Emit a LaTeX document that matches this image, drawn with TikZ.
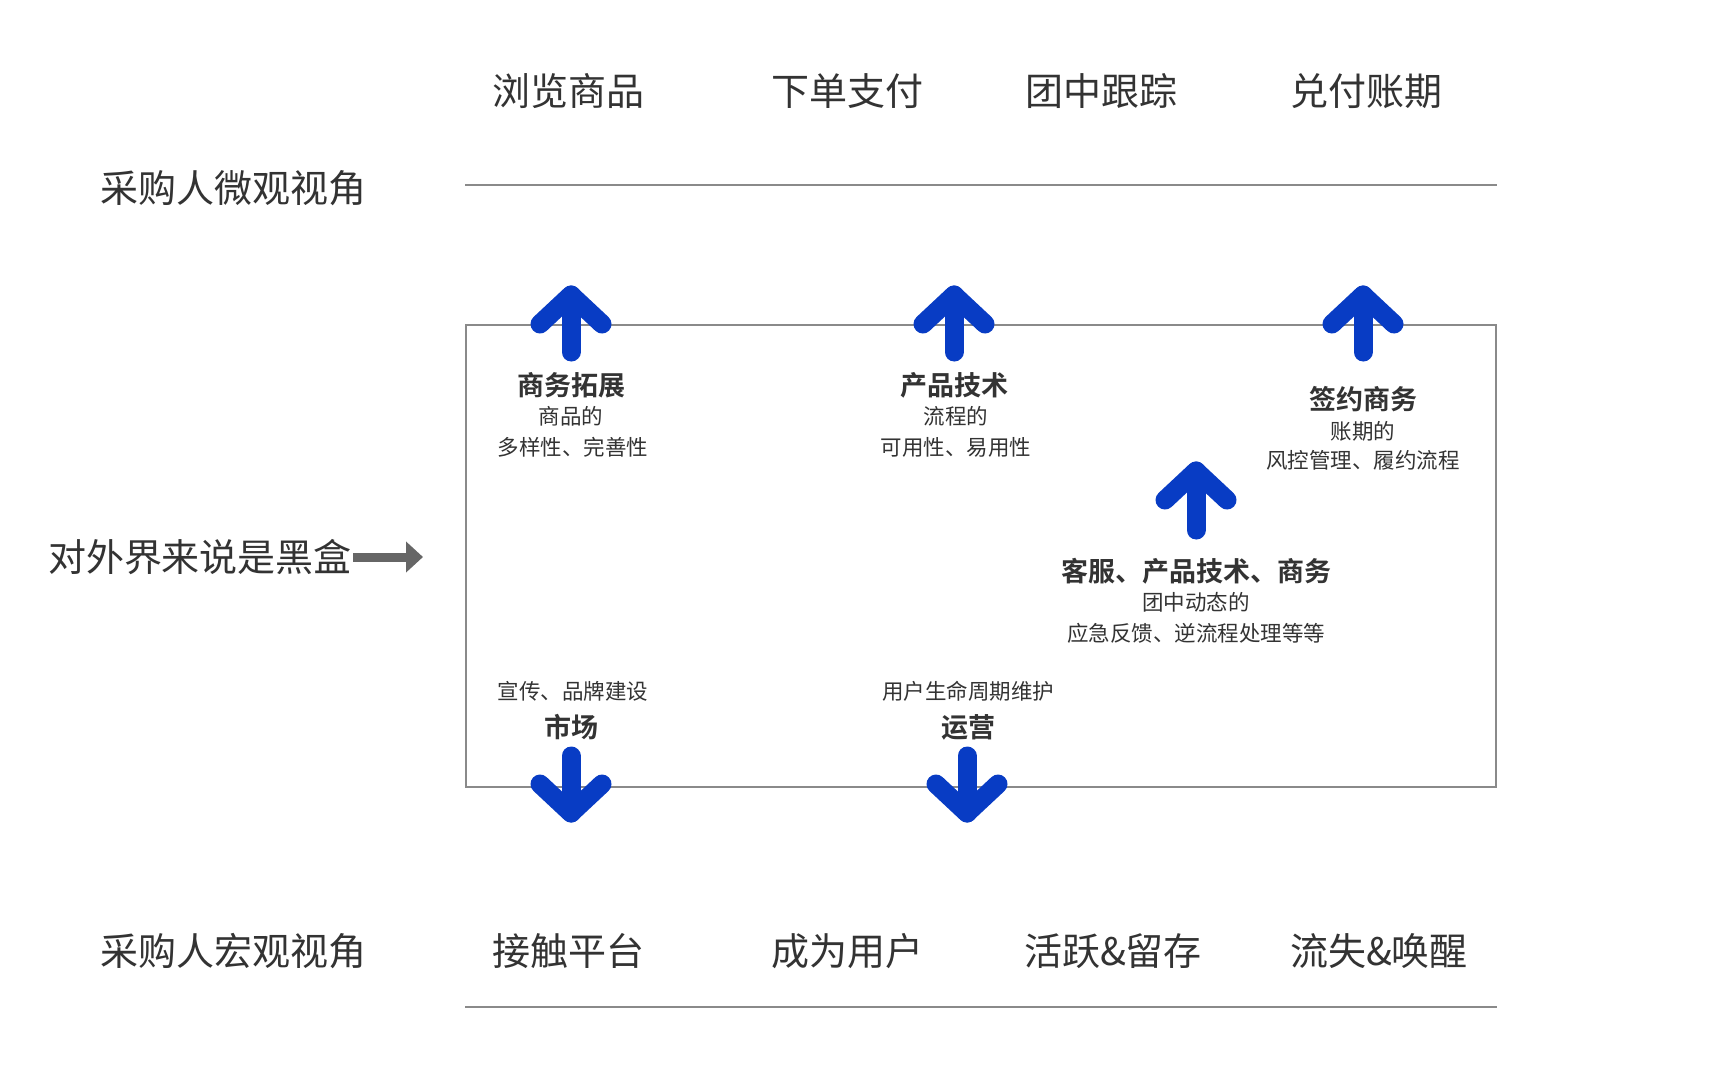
\documentclass[tikz,border=0pt]{standalone}
\usepackage{fontspec}
\setmainfont{Noto Sans CJK SC}[BoldFont={Noto Sans CJK SC Bold}]
\usetikzlibrary{arrows.meta}
\definecolor{txt}{HTML}{333333}
\definecolor{rulegray}{HTML}{8A8A8A}
\definecolor{arrblue}{HTML}{083CC4}
\definecolor{darkarr}{HTML}{666666}
\begin{document}
\begin{tikzpicture}[x=1pt,y=-1pt,
  big/.style={font=\fontsize{38}{38}\selectfont, text=txt, inner sep=0pt},
  lbl/.style={font=\fontsize{27}{27}\selectfont\bfseries, text=txt, inner sep=0pt},
  small/.style={font=\fontsize{21.5}{21.5}\selectfont, text=txt, inner sep=0pt},
  rule/.style={draw=rulegray, line width=2.5pt},
  blackbox/.style={draw=rulegray, line width=2.5pt},
  bluearrow/.style={draw=arrblue, line width=19pt, line cap=round, line join=round}]
\useasboundingbox (0,0) rectangle (1714,1080);
\fill[white] (0,0) rectangle (1714,1080);

% top row
\node[big] (t1) at (568,91) {浏览商品};
\node[big] (t2) at (847,91) {下单支付};
\node[big] (t3) at (1101,91) {团中跟踪};
\node[big] (t4) at (1366,91) {兑付账期};
\node[big] (micro) at (233,188) {采购人微观视角};
\coordinate (tl1) at (465,185);
\coordinate (tl2) at (1497,185);
\draw[rule] (tl1) -- (tl2);

% box
\coordinate (boxa) at (466,325);
\coordinate (boxb) at (1496,787);
\draw[blackbox] (boxa) rectangle (boxb);

% up arrows (top)
\foreach \cx in {571,954,1363}{
  \draw[bluearrow] (\cx,352) -- (\cx,295);
  \draw[bluearrow] (\cx-31,324) -- (\cx,295) -- (\cx+31,324);
}
% middle up arrow
\draw[bluearrow] (1196,530) -- (1196,471);
\draw[bluearrow] (1196-31,500) -- (1196,471) -- (1196+31,500);
% down arrows
\foreach \cx in {571,967}{
  \draw[bluearrow] (\cx,756) -- (\cx,813);
  \draw[bluearrow] (\cx-31,784) -- (\cx,813) -- (\cx+31,784);
}

% labels in box
\node[lbl] (bd) at (571,385) {商务拓展};
\node[small] (bd1) at (571,416) {商品的};
\node[small] (bd2) at (573,447) {多样性、完善性};

\node[lbl] (pt) at (954,385) {产品技术};
\node[small] (pt1) at (956,416) {流程的};
\node[small] (pt2) at (956,447) {可用性、易用性};

\node[lbl] (sb) at (1363,399) {签约商务};
\node[small] (sb1) at (1363,431) {账期的};
\node[small] (sb2) at (1363,460) {风控管理、履约流程};

\node[lbl] (cs) at (1196,571) {客服、产品技术、商务};
\node[small] (cs1) at (1196,602) {团中动态的};
\node[small] (cs2) at (1196,633) {应急反馈、逆流程处理等等};

\node[small] (mk1) at (573,691) {宣传、品牌建设};
\node[lbl] (mk) at (571,727) {市场};
\node[small] (op1) at (968,691) {用户生命周期维护};
\node[lbl] (op) at (968,727) {运营};

% left label with arrow
\node[big] (bbox) at (200,557) {对外界来说是黑盒};
\coordinate (bbend) at (423,557);
\draw[darkarr, line width=9pt, -{Triangle[length=17pt,width=30pt]}] ([xshift=1pt]bbox.east) -- (bbend);

% bottom row
\node[big] (macro) at (233,951) {采购人宏观视角};
\node[big] (b1) at (568,951) {接触平台};
\node[big] (b2) at (847,951) {成为用户};
\node[big] (b3) at (1113,951) {活跃\&留存};
\node[big] (b4) at (1379,951) {流失\&唤醒};
\coordinate (bl1) at (465,1007);
\coordinate (bl2) at (1497,1007);
\draw[rule] (bl1) -- (bl2);
\end{tikzpicture}
\end{document}
